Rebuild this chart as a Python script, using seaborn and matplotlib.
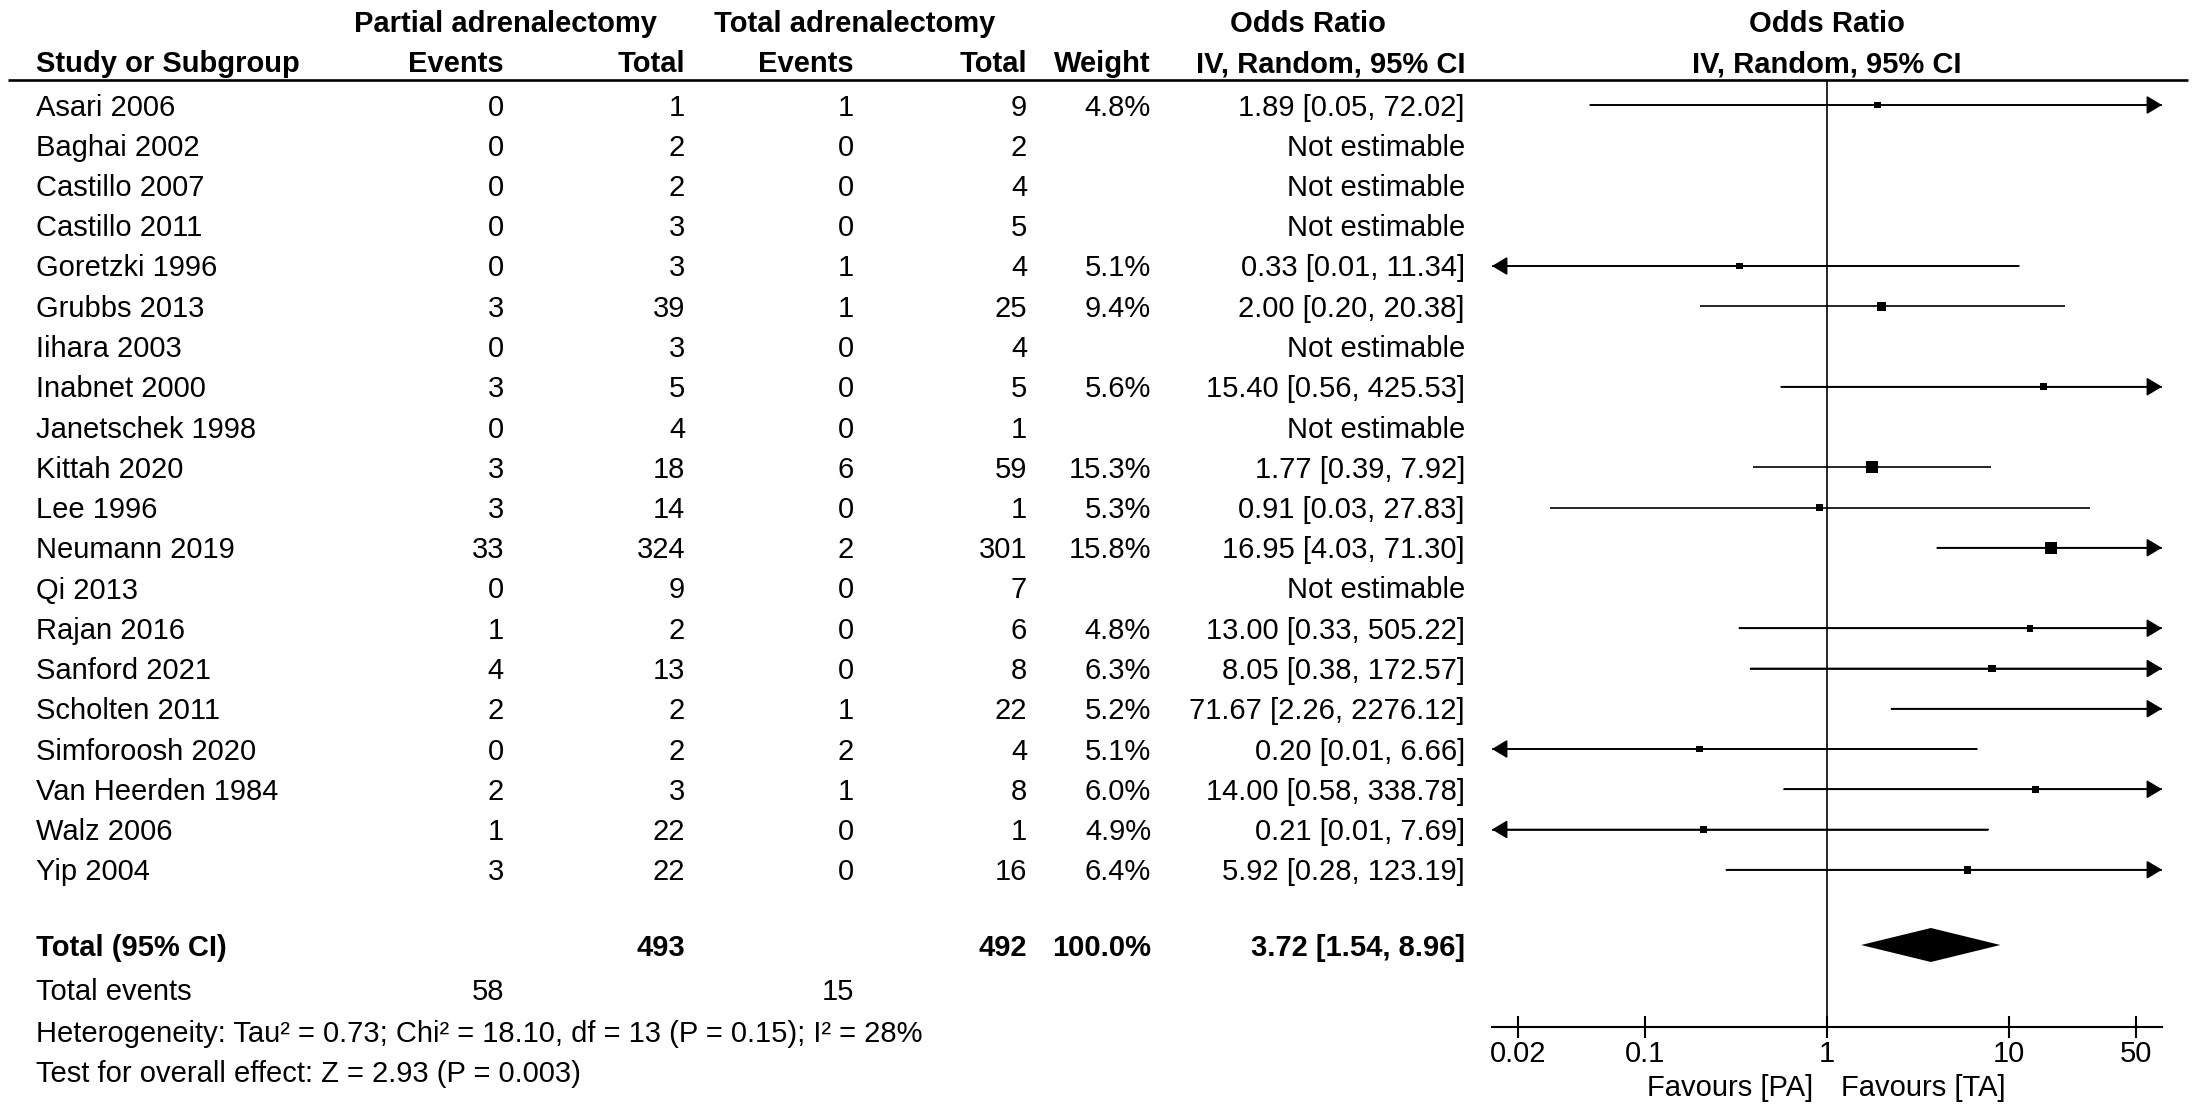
import numpy as np
import pandas as pd
import seaborn as sns
import matplotlib.pyplot as plt

nan = np.nan

studies = ["Asari 2006", "Baghai 2002", "Castillo 2007", "Castillo 2011", "Goretzki 1996",
           "Grubbs 2013", "Iihara 2003", "Inabnet 2000", "Janetschek 1998", "Kittah 2020",
           "Lee 1996", "Neumann 2019", "Qi 2013", "Rajan 2016", "Sanford 2021",
           "Scholten 2011", "Simforoosh 2020", "Van Heerden 1984", "Walz 2006", "Yip 2004"]
pa_events = [0, 0, 0, 0, 0, 3, 0, 3, 0, 3, 3, 33, 0, 1, 4, 2, 0, 2, 1, 3]
pa_total = [1, 2, 2, 3, 3, 39, 3, 5, 4, 18, 14, 324, 9, 2, 13, 2, 2, 3, 22, 22]
ta_events = [1, 0, 0, 0, 1, 1, 0, 0, 0, 6, 0, 2, 0, 0, 0, 1, 2, 1, 0, 0]
ta_total = [9, 2, 4, 5, 4, 25, 4, 5, 1, 59, 1, 301, 7, 6, 8, 22, 4, 8, 1, 16]
weight = [4.8, nan, nan, nan, 5.1, 9.4, nan, 5.6, nan, 15.3,
          5.3, 15.8, nan, 4.8, 6.3, 5.2, 5.1, 6.0, 4.9, 6.4]
odds = [1.89, nan, nan, nan, 0.33, 2.00, nan, 15.40, nan, 1.77,
        0.91, 16.95, nan, 13.00, 8.05, 71.67, 0.20, 14.00, 0.21, 5.92]
ci_low = [0.05, nan, nan, nan, 0.01, 0.20, nan, 0.56, nan, 0.39,
          0.03, 4.03, nan, 0.33, 0.38, 2.26, 0.01, 0.58, 0.01, 0.28]
ci_high = [72.02, nan, nan, nan, 11.34, 20.38, nan, 425.53, nan, 7.92,
           27.83, 71.30, nan, 505.22, 172.57, 2276.12, 6.66, 338.78, 7.69, 123.19]

total_pa, total_ta = 493, 492
events_pa, events_ta = 58, 15
total_or, total_low, total_high = 3.72, 1.54, 8.96
heterogeneity = "Heterogeneity: Tau\u00b2 = 0.73; Chi\u00b2 = 18.10, df = 13 (P = 0.15); I\u00b2 = 28%"
overall = "Test for overall effect: Z = 2.93 (P = 0.003)"
tick_vals = [0.02, 0.1, 1, 10, 50]
tick_labels = ["0.02", "0.1", "1", "10", "50"]

sns.set_theme(style="white")
plt.rcParams['font.family'] = ['Liberation Sans', 'DejaVu Sans']
FS = 21

W, H = 2196, 1111
fig = plt.figure(figsize=(W / 100, H / 100), dpi=100)

# text area, pixel coordinates
ax = fig.add_axes([0, 0, 1, 1])
ax.set_xlim(0, W)
ax.set_ylim(H, 0)
ax.axis('off')

row0, step = 105, 40.25
rows = [row0 + step * i for i in range(len(studies))]
base = 10.5  # baseline offset from row centre

col_study, col_pae, col_pat, col_tae, col_tat, col_w, col_or = 36, 504, 685, 854, 1027, 1151, 1465
x_one = 1827


def txt(x, y, s, ha='right', bold=False):
    ax.text(x, y + base, s, ha=ha, va='baseline', fontsize=FS, color='black',
            fontweight='bold' if bold else 'normal')


# headers
for x, s in [(505, "Partial adrenalectomy"), (855, "Total adrenalectomy"),
             (1308, "Odds Ratio"), (x_one, "Odds Ratio")]:
    txt(x, 21, s, ha='center', bold=True)
txt(col_study, 62, "Study or Subgroup", ha='left', bold=True)
for x, s in [(col_pae, "Events"), (col_pat, "Total"), (col_tae, "Events"),
             (col_tat, "Total"), (col_w, "Weight"), (col_or, "IV, Random, 95% CI")]:
    txt(x, 62, s, bold=True)
txt(x_one, 62, "IV, Random, 95% CI", ha='center', bold=True)
ax.plot([8, 2188], [80, 80], color='black', lw=1.9, solid_capstyle='butt')

# study rows
for i, y in enumerate(rows):
    txt(col_study, y, studies[i], ha='left')
    txt(col_pae, y, str(pa_events[i]))
    txt(col_pat, y, str(pa_total[i]))
    txt(col_tae, y, str(ta_events[i]))
    txt(col_tat, y, str(ta_total[i]))
    if np.isnan(odds[i]):
        txt(col_or, y, "Not estimable")
    else:
        txt(col_w, y, f"{weight[i]:.1f}%")
        txt(col_or, y, f"{odds[i]:.2f} [{ci_low[i]:.2f}, {ci_high[i]:.2f}]")

# totals
y_tot = 945
txt(col_study, y_tot, "Total (95% CI)", ha='left', bold=True)
txt(col_pat, y_tot, str(total_pa), bold=True)
txt(col_tat, y_tot, str(total_ta), bold=True)
txt(col_w, y_tot, "100.0%", bold=True)
txt(col_or, y_tot, f"{total_or:.2f} [{total_low:.2f}, {total_high:.2f}]", bold=True)
txt(col_study, 989, "Total events", ha='left')
txt(col_pae, 989, str(events_pa))
txt(col_tae, 989, str(events_ta))
txt(col_study, 1031, heterogeneity, ha='left')
txt(col_study, 1071, overall, ha='left')

# forest panel
ax_l, ax_r, ax_top, ax_bot = 1492, 2162, 80, 1027
axf = fig.add_axes([ax_l / W, 1 - ax_bot / H, (ax_r - ax_l) / W, (ax_bot - ax_top) / H])
xmax = 69.2
xmin = 1 / xmax
axf.set_xscale('log')
axf.set_xlim(xmin, xmax)
axf.set_ylim(ax_bot, ax_top)
axf.patch.set_alpha(0)
for side in ['top', 'left', 'right']:
    axf.spines[side].set_visible(False)
axf.spines['bottom'].set_color('black')
axf.spines['bottom'].set_linewidth(1.5)
axf.set_yticks([])
axf.set_xticks(tick_vals)
axf.set_xticklabels(tick_labels)
axf.minorticks_off()
axf.tick_params(axis='x', which='major', direction='inout', length=16, width=1.5,
                color='black', labelsize=FS, labelcolor='black', pad=1, bottom=True)
axf.axvline(1, color='black', lw=1.2, zorder=1)

for i, y in enumerate(rows):
    if np.isnan(odds[i]):
        continue
    x0 = max(ci_low[i], xmin)
    x1 = min(ci_high[i], xmax)
    axf.plot([x0, x1], [y, y], color='black', lw=1.2, solid_capstyle='butt', zorder=2)
    if ci_high[i] > xmax:
        axf.annotate("", xy=(xmax, y), xytext=(x0, y),
                     arrowprops=dict(arrowstyle='-|>,head_length=0.55,head_width=0.33',
                                     mutation_scale=17, color='black', lw=1.2,
                                     shrinkA=0, shrinkB=0), annotation_clip=False)
    if ci_low[i] < xmin:
        axf.annotate("", xy=(xmin, y), xytext=(x1, y),
                     arrowprops=dict(arrowstyle='-|>,head_length=0.55,head_width=0.33',
                                     mutation_scale=17, color='black', lw=1.2,
                                     shrinkA=0, shrinkB=0), annotation_clip=False)

# squares only for estimates inside the plotted range
df = pd.DataFrame({"study": studies, "or": odds, "weight": weight, "y": rows}).dropna()
df = df[(df["or"] > xmin) & (df["or"] < xmax)]
sns.scatterplot(data=df, x="or", y="y", size="weight", sizes=(0, 93.4), size_norm=(0, 20),
                marker='s', color='black', edgecolor='black', linewidth=0, legend=False,
                ax=axf, zorder=3)
axf.set_xlabel("")
axf.set_ylabel("")

# pooled diamond
half = 17
axf.fill([total_low, total_or, total_high, total_or],
         [y_tot, y_tot - half, y_tot, y_tot + half], color='black', lw=0, zorder=3)

txt(x_one - 14, 1085, "Favours [PA]")
txt(x_one + 14, 1085, "Favours [TA]", ha='left')

fig.savefig("out.png", dpi=100, facecolor='white')
